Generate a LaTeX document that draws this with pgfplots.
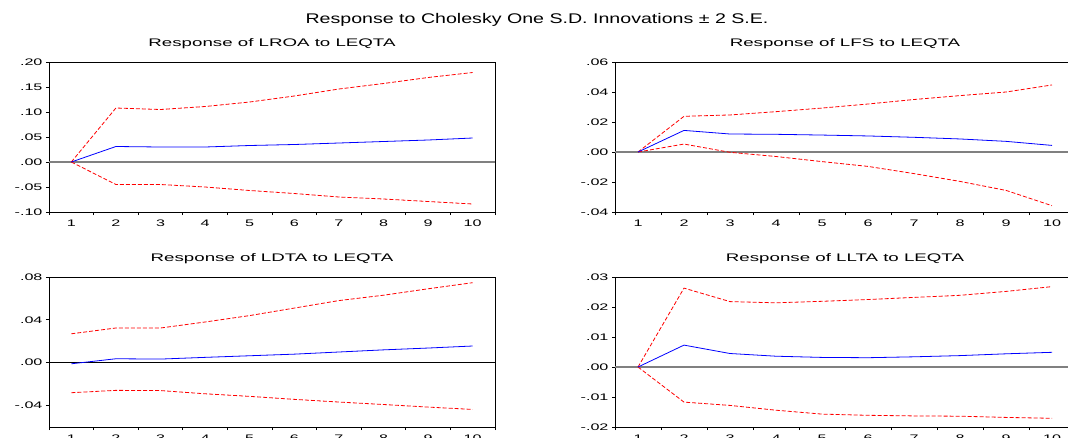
\documentclass[border=0pt]{standalone}
\usepackage{fontspec}
\setmainfont{Liberation Sans}
\newfontfamily\widefont{Liberation Sans}[FakeStretch=1.7]
\newfontfamily\titlefont{Liberation Sans}[FakeStretch=1.4]
\usepackage{pgfplots}
\usepackage{pgfplotstable}
\pgfplotsset{compat=1.18}

% Impulse responses to a one S.D. shock in LEQTA: response, upper and lower 2 S.E. bands
\pgfplotstableread{
h resp up lo
1 0.000 0.000 0.000
2 0.031 0.108 -0.045
3 0.030 0.105 -0.045
4 0.030 0.111 -0.050
5 0.033 0.120 -0.057
6 0.035 0.132 -0.063
7 0.038 0.146 -0.070
8 0.041 0.157 -0.074
9 0.044 0.169 -0.079
10 0.048 0.179 -0.084
}\lroa
\pgfplotstableread{
h resp up lo
1 0.0000 0.0000 0.0000
2 0.0144 0.0238 0.0053
3 0.0120 0.0247 -0.0002
4 0.0118 0.0269 -0.0030
5 0.0113 0.0293 -0.0064
6 0.0107 0.0320 -0.0096
7 0.0098 0.0350 -0.0144
8 0.0087 0.0376 -0.0196
9 0.0071 0.0400 -0.0256
10 0.0044 0.0447 -0.0358
}\lfs
\pgfplotstableread{
h resp up lo
1 -0.0010 0.0270 -0.0280
2 0.0037 0.0324 -0.0258
3 0.0034 0.0324 -0.0260
4 0.0050 0.0380 -0.0290
5 0.0065 0.0440 -0.0314
6 0.0080 0.0510 -0.0342
7 0.0100 0.0580 -0.0367
8 0.0120 0.0630 -0.0390
9 0.0137 0.0690 -0.0414
10 0.0156 0.0747 -0.0436
}\ldta
\pgfplotstableread{
h resp up lo
1 0.0000 0.0000 0.0000
2 0.0073 0.0263 -0.0117
3 0.0045 0.0218 -0.0128
4 0.0036 0.0214 -0.0144
5 0.0032 0.0219 -0.0157
6 0.0031 0.0225 -0.0161
7 0.0034 0.0232 -0.0163
8 0.0038 0.0239 -0.0164
9 0.0044 0.0252 -0.0168
10 0.0049 0.0268 -0.0171
}\llta

\pgfplotsset{
  irf/.style={
    scale only axis, height=150pt,
    xmin=0.5, xmax=10.5,
    xtick={1,...,10},
    minor xtick={0.5,1.5,...,10.5},
    major x tick style={draw=none},
    xtick pos=left, ytick pos=left,
    tick align=outside,
    major tick length=3pt, minor tick length=3pt,
    tick style={black, line width=0.8pt},
    axis line style={black, line width=1pt},
    scaled y ticks=false,
    /pgf/number format/assume math mode=true,
    ticklabel style={font=\widefont\fontsize{9.5}{10}\selectfont},
    xticklabel style={yshift=-1pt},
    title style={font=\widefont\fontsize{11}{12}\selectfont, at={(0.5,1)}, anchor=south, yshift=4pt},
    clip=false,
  },
  resp/.style={blue, line width=0.8pt},
  band/.style={red, line width=0.8pt, dash pattern=on 4pt off 2pt},
  zero/.style={black!50, line width=1.1pt},
}

\begin{document}
\begin{tikzpicture}
\useasboundingbox (0pt,-437pt) rectangle (1068pt,0pt);
\node[font=\titlefont\fontsize{14}{16}\selectfont] at (537pt,-20pt) {Response to Cholesky One S.D. Innovations ± 2 S.E.};

\begin{axis}[irf, at={(49pt,-212pt)}, anchor=south west, width=446pt,
  ymin=-0.10, ymax=0.20, ytick={-0.10,-0.05,...,0.20},
  yticklabels={-.10,-.05,.00,.05,.10,.15,.20},
  title={Response of LROA to LEQTA}]
  \addplot[zero] coordinates {(0.5,0) (10.5,0)};
  \addplot[band] table[x=h,y=up] {\lroa};
  \addplot[band] table[x=h,y=lo] {\lroa};
  \addplot[resp] table[x=h,y=resp] {\lroa};
\end{axis}

\begin{axis}[irf, at={(615pt,-212pt)}, anchor=south west, width=460pt,
  ymin=-0.04, ymax=0.06, ytick={-0.04,-0.02,...,0.06},
  yticklabels={-.04,-.02,.00,.02,.04,.06},
  title={Response of LFS to LEQTA}]
  \addplot[zero] coordinates {(0.5,0) (10.5,0)};
  \addplot[band] table[x=h,y=up] {\lfs};
  \addplot[band] table[x=h,y=lo] {\lfs};
  \addplot[resp] table[x=h,y=resp] {\lfs};
\end{axis}

\begin{axis}[irf, at={(49pt,-427pt)}, anchor=south west, width=446pt,
  ymin=-0.06, ymax=0.08, ytick={-0.04,0,0.04,0.08},
  yticklabels={-.04,.00,.04,.08},
  title={Response of LDTA to LEQTA}]
  \addplot[black, line width=0.8pt] coordinates {(0.5,0) (10.5,0)};
  \addplot[band] table[x=h,y=up] {\ldta};
  \addplot[band] table[x=h,y=lo] {\ldta};
  \addplot[resp] table[x=h,y=resp] {\ldta};
\end{axis}

\begin{axis}[irf, at={(615pt,-427pt)}, anchor=south west, width=460pt,
  ymin=-0.02, ymax=0.03, ytick={-0.02,-0.01,...,0.03},
  yticklabels={-.02,-.01,.00,.01,.02,.03},
  title={Response of LLTA to LEQTA}]
  \addplot[zero] coordinates {(0.5,0) (10.5,0)};
  \addplot[band] table[x=h,y=up] {\llta};
  \addplot[band] table[x=h,y=lo] {\llta};
  \addplot[resp] table[x=h,y=resp] {\llta};
\end{axis}
\end{tikzpicture}
\end{document}
